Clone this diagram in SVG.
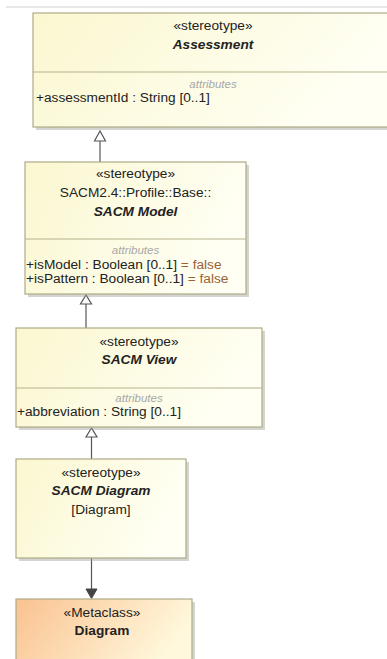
<svg xmlns="http://www.w3.org/2000/svg" width="387" height="659" viewBox="0 0 387 659">
<defs>
<linearGradient id="gY" x1="0" y1="0" x2="1" y2="0.3">
<stop offset="0" stop-color="#fbf7d0"/>
<stop offset="1" stop-color="#fffff4"/>
</linearGradient>
<linearGradient id="gO" x1="0" y1="0" x2="1" y2="0.3">
<stop offset="0" stop-color="#fac290"/>
<stop offset="1" stop-color="#fff8dc"/>
</linearGradient>
</defs>
<style>
.box{stroke:#aeaa86;stroke-width:1.2;fill:url(#gY)}
.meta{stroke:#aeaa86;stroke-width:1.2;fill:url(#gO)}
.sh{fill:#a0a098;opacity:0.45}
.sep{stroke:#b5b28c;stroke-width:1.2}
text{font-family:"Liberation Sans",Arial,sans-serif;font-size:13.7px;fill:#222}
.c{text-anchor:middle}
.b{font-weight:bold}
.i{font-style:italic}
.attr{font-size:11.5px;font-style:italic;fill:#a8a8a8;text-anchor:middle}
.v{fill:#9a6235}
.line{stroke:#555;stroke-width:1.2;fill:none}
.tri{stroke:#555;stroke-width:1.2;fill:#fff}
</style>
<line x1="6" y1="7" x2="387" y2="7" stroke="#cfcfcf" stroke-width="1.2"/>
<g id="connectors">
<line class="line" x1="100" y1="141" x2="100" y2="162"/>
<polygon class="tri" points="100,131 94.5,141 105.5,141"/>
<line class="line" x1="86" y1="304" x2="86" y2="328"/>
<polygon class="tri" points="86,295 80.5,304 91.5,304"/>
<line class="line" x1="91.5" y1="437" x2="91.5" y2="459"/>
<polygon class="tri" points="91.5,428 86,437 97,437"/>
<line class="line" x1="91.5" y1="558" x2="91.5" y2="590"/>
<polygon points="86,589 97,589 91.5,598.5" fill="#444" stroke="#444" stroke-width="1"/>
</g>
<g id="assessment">
<rect class="sh" x="36" y="16" width="360" height="114"/>
<rect class="box" x="33" y="13" width="360" height="114"/>
<line class="sep" x1="33" y1="72" x2="393" y2="72"/>
<text class="c" x="213" y="30">«stereotype»</text>
<text class="c b i" x="213" y="49">Assessment</text>
<text class="attr" x="213" y="88">attributes</text>
<text x="36" y="102">+assessmentId : String [0..1]</text>
</g>
<g id="sacm-model">
<rect class="sh" x="28" y="165" width="221" height="132"/>
<rect class="box" x="25" y="162" width="221" height="132"/>
<line class="sep" x1="25" y1="239" x2="246" y2="239"/>
<text class="c" x="135.5" y="178">«stereotype»</text>
<text class="c" x="135.5" y="197">SACM2.4::Profile::Base::</text>
<text class="c b i" x="135.5" y="216">SACM Model</text>
<text class="attr" x="135.5" y="254">attributes</text>
<text x="26" y="269">+isModel : Boolean [0..1] <tspan class="v">= false</tspan></text>
<text x="26" y="283">+isPattern : Boolean [0..1] <tspan class="v">= false</tspan></text>
</g>
<g id="sacm-view">
<rect class="sh" x="19" y="331" width="246" height="99"/>
<rect class="box" x="16" y="328" width="246" height="99"/>
<line class="sep" x1="16" y1="388" x2="262" y2="388"/>
<text class="c" x="139" y="346">«stereotype»</text>
<text class="c b i" x="139" y="364">SACM View</text>
<text class="attr" x="139" y="402">attributes</text>
<text x="17" y="416">+abbreviation : String [0..1]</text>
</g>
<g id="sacm-diagram">
<rect class="sh" x="19" y="462" width="170" height="99"/>
<rect class="box" x="16" y="459" width="170" height="99"/>
<text class="c" x="101" y="477">«stereotype»</text>
<text class="c b i" x="101" y="495">SACM Diagram</text>
<text class="c" x="101" y="514">[Diagram]</text>
</g>
<g id="metaclass-diagram">
<rect class="sh" x="19" y="602" width="176" height="70"/>
<rect class="meta" x="16" y="599" width="176" height="70"/>
<text class="c" x="102" y="617">«Metaclass»</text>
<text class="c b" x="102" y="635">Diagram</text>
</g>
</svg>
